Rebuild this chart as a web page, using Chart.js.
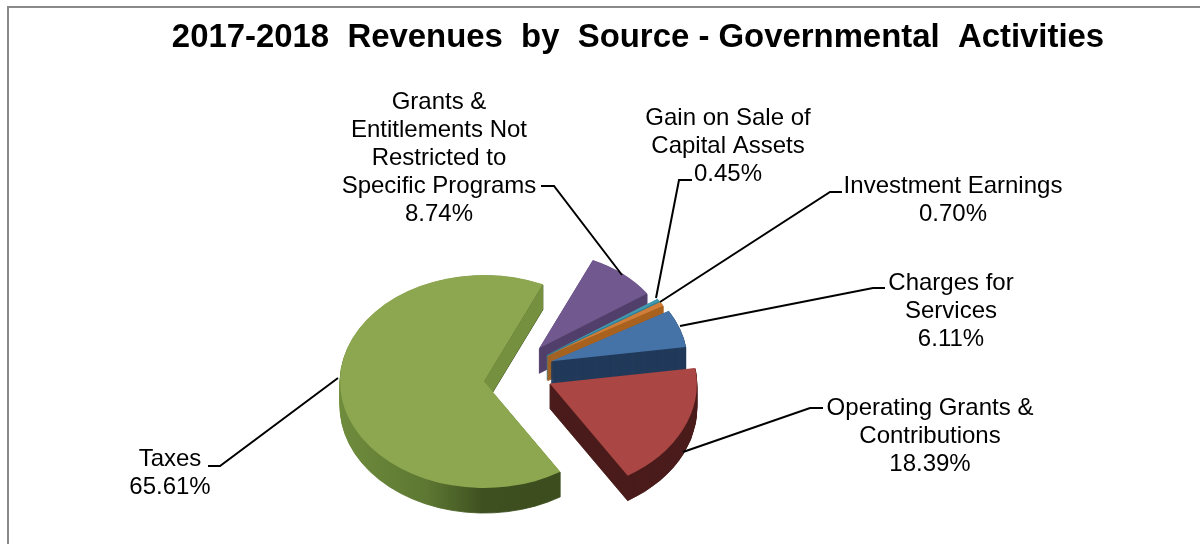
<!DOCTYPE html>
<html>
<head>
<meta charset="utf-8">
<title>Revenues by Source</title>
<script src="https://cdn.jsdelivr.net/npm/chart.js@4"></script>
<style>
    html, body { margin: 0; padding: 0; background: #fff; overflow: hidden; }
    #frame { position: absolute; left: 7px; top: 6px; width: 1200px; height: 544px; border-left: 2px solid #8a8a8a; border-top: 2px solid #8a8a8a; }
    #revenueChart { position: absolute; left: 0; top: 0; }
</style>
</head>
<body>
<div id="frame"></div>
<canvas id="revenueChart" width="1200" height="544"></canvas>
<script>
const chartTitle = '2017-2018  Revenues  by  Source - Governmental  Activities';
const sources = ['Taxes', 'Grants & Entitlements Not Restricted to Specific Programs', 'Gain on Sale of Capital Assets', 'Investment Earnings', 'Charges for Services', 'Operating Grants & Contributions'];
const shares = [65.61, 8.74, 0.45, 0.70, 6.11, 18.39];
const labelLines = [
    ['Taxes'],
    ['Grants &', 'Entitlements Not', 'Restricted to', 'Specific Programs'],
    ['Gain on Sale of', 'Capital Assets'],
    ['Investment Earnings'],
    ['Charges for', 'Services'],
    ['Operating Grants &', 'Contributions']
];

const topColors = ['#8ca74f', '#71588f', '#4198af', '#cf7d39', '#4572a7', '#aa4643'];
const wallColors = [null, '#523f6b', '#2f7f93', '#a8621f', '#213a5a', '#4a1c1a'];

// pie placement: centre on the page, vertical squash and wall height
const PIE_X = 513.5;
const PIE_Y = 371;
const SQUASH = 0.74;
const DEPTH = 25;
const explode = [29.5, 40, 40, 40, 40, 40];
const radii = [144, 131, 134, 134, 136, 147];
const TAXES_DROP = 9;

// label anchor (centre x, first line y) and leader path, same order as sources
const labelBoxes = [
    { x: 170, y: 459, leader: [[208, 466], [220, 466], [338, 378]] },
    { x: 439, y: 102, leader: [[541, 186], [554, 186], [622, 275]] },
    { x: 728, y: 118, leader: [[692, 180], [679, 180], [656, 298]] },
    { x: 953, y: 186, leader: [[842, 192], [830, 192], [660, 302]] },
    { x: 951, y: 283, leader: [[885, 288], [873, 288], [680, 326]] },
    { x: 930, y: 408, leader: [[823, 408], [810, 408], [683, 452]] }
];

function sectorPath(ctx, arc) {
    ctx.beginPath();
    ctx.moveTo(arc.x, arc.y);
    ctx.arc(arc.x, arc.y, arc.outerRadius, arc.startAngle, arc.endAngle);
    ctx.closePath();
}

function taxesWallFill(ctx, arc) {
    const r = arc.outerRadius;
    const grad = ctx.createLinearGradient(arc.x - r, 0, arc.x + r, 0);
    grad.addColorStop(0, '#6f8c3d');
    grad.addColorStop(0.3, '#5d7832');
    grad.addColorStop(0.5, '#3e4f20');
    grad.addColorStop(1, '#3a4a1c');
    return grad;
}

const tiltedPie = {
    id: 'tiltedPie',
    afterDatasetsUpdate(chart) {
        // pull the wedges apart along their middle angle
        chart.getDatasetMeta(0).data.forEach((arc, i) => {
            const mid = (arc.startAngle + arc.endAngle) / 2;
            arc.x = Math.cos(mid) * explode[i];
            arc.y = Math.sin(mid) * explode[i] + (i === 0 ? TAXES_DROP / SQUASH : 0);
            arc.outerRadius = radii[i];
            arc.innerRadius = 0;
        });
    },
    beforeDatasetsDraw(chart) {
        const ctx = chart.ctx;
        const arcs = chart.getDatasetMeta(0).data;
        ctx.save();
        ctx.translate(PIE_X, PIE_Y);
        ctx.scale(1, SQUASH);

        // walls go back to front, taxes last
        [1, 2, 3, 4, 5, 0].forEach(i => {
            const arc = arcs[i];
            const wall = i === 0 ? taxesWallFill(ctx, arc) : wallColors[i];
            ctx.fillStyle = wall;
            ctx.strokeStyle = wall;
            ctx.lineWidth = 1;
            for (let dy = DEPTH; dy > 0; dy--) {
                ctx.save();
                ctx.translate(0, dy / SQUASH);
                sectorPath(ctx, arc);
                ctx.fill();
                ctx.stroke();
                ctx.restore();
            }
        });

        // cut side of the taxes wedge catches more light
        const taxes = arcs[0];
        const ex = taxes.x + Math.cos(taxes.endAngle) * taxes.outerRadius;
        const ey = taxes.y + Math.sin(taxes.endAngle) * taxes.outerRadius;
        const h = DEPTH / SQUASH;
        ctx.fillStyle = '#75903f';
        ctx.beginPath();
        ctx.moveTo(taxes.x, taxes.y);
        ctx.lineTo(ex, ey);
        ctx.lineTo(ex, ey + h);
        ctx.lineTo(taxes.x, taxes.y + h);
        ctx.closePath();
        ctx.fill();
    },
    afterDatasetsDraw(chart) {
        const ctx = chart.ctx;
        ctx.restore();

        ctx.strokeStyle = '#000';
        ctx.lineWidth = 2;
        labelBoxes.forEach(box => {
            ctx.beginPath();
            box.leader.forEach(([x, y], k) => k ? ctx.lineTo(x, y) : ctx.moveTo(x, y));
            ctx.stroke();
        });

        ctx.fillStyle = '#000';
        ctx.font = '24px "Liberation Sans"';
        ctx.textAlign = 'center';
        ctx.textBaseline = 'middle';
        labelBoxes.forEach((box, i) => {
            const lines = [...labelLines[i], shares[i].toFixed(2) + '%'];
            lines.forEach((line, k) => ctx.fillText(line, box.x, box.y + k * 28));
        });
    }
};

new Chart(document.getElementById('revenueChart').getContext('2d'), {
    type: 'pie',
    plugins: [tiltedPie],
    data: {
        labels: sources,
        datasets: [{
            data: shares,
            backgroundColor: topColors,
            borderWidth: 0,
            clip: false
        }]
    },
    options: {
        responsive: false,
        animation: false,
        events: [],
        rotation: 148,
        layout: { padding: { left: 76 } },
        plugins: {
            legend: { display: false },
            tooltip: { enabled: false },
            title: {
                display: true,
                text: chartTitle,
                color: '#000',
                font: { family: '"Liberation Sans"', size: 32.9, weight: 'bold' },
                padding: { top: 18, bottom: 0 }
            }
        }
    }
});
</script>
</body>
</html>
